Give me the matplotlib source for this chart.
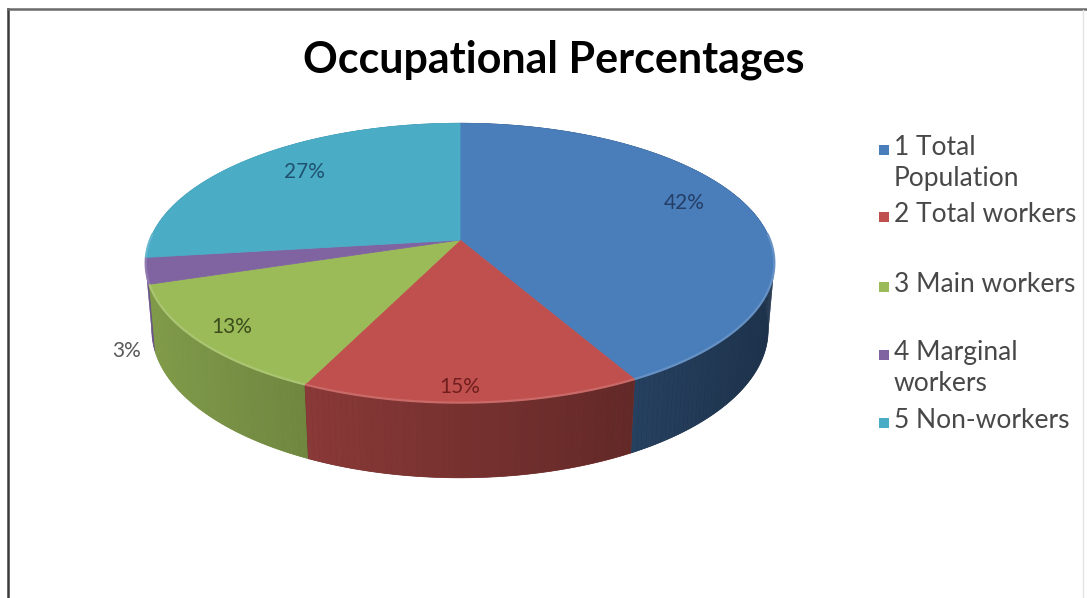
import matplotlib.pyplot as plt
import numpy as np
from matplotlib.collections import PolyCollection
from matplotlib.colors import to_rgb
from matplotlib.patches import Polygon

TITLE = "Occupational Percentages"
categories = ["1 Total\nPopulation", "2 Total workers", "3 Main workers",
              "4 Marginal\nworkers", "5 Non-workers"]
shares = [42, 15, 13, 3, 27]
slice_colors = ["#4A7EBB", "#C0504D", "#9BBB59", "#8064A2", "#4BACC6"]
label_colors = ["#243E66", "#701E1E", "#3C4C1C", "#5A5A5A", "#1E5270"]

# label anchor points (pixels) and legend rows
label_pos = [(684, 203), (460, 387), (232, 327), (127, 351), (304, 172)]
legend_rows = [150, 217, 287, 355, 423]

# camera set-up for the tilted disc (pixel space)
CX, CY = 460.0, 240.0
FOCAL = 1696.0
DIST = 5.47
TILT = np.radians(26.0)
THICK = 0.242


def project(x, y, z):
    yc = y * np.cos(TILT) + z * np.sin(TILT)
    zc = z * np.cos(TILT) - y * np.sin(TILT) + DIST
    return CX + FOCAL * x / zc, CY - FOCAL * yc / zc, zc


def shade(color, f):
    r, g, b = to_rgb(color)
    return (r * f, g * f, b * f)


def lighten(color, f):
    r, g, b = to_rgb(color)
    return (r + (1 - r) * f, g + (1 - g) * f, b + (1 - b) * f)


def wall_light(a):
    return 0.62 - 0.23 * np.sin(a)


fig = plt.figure(figsize=(10.87, 5.98), dpi=100)
ax = fig.add_axes([0, 0, 1, 1])
ax.set_xlim(0, 1087)
ax.set_ylim(598, 0)
ax.axis("off")

fracs = np.array(shares, dtype=float) / sum(shares)
edges = np.concatenate([[0.0], np.cumsum(fracs)]) * 2 * np.pi

# side walls: one solid band per slice, then a shading gradient over it,
# painted from the farthest slice to the nearest
walls = []
for i in range(len(shares)):
    a = np.linspace(edges[i], edges[i + 1], max(4, int(np.degrees(edges[i + 1] - edges[i]))))
    tx, ty, _ = project(np.sin(a), 0 * a, np.cos(a))
    bx, by, _ = project(np.sin(a), 0 * a - THICK, np.cos(a))
    am = 0.5 * (edges[i] + edges[i + 1])
    _, _, zc = project(np.sin(am), 0, np.cos(am))
    walls.append((zc, i, a, tx, ty, bx, by))

for zc, i, a, tx, ty, bx, by in sorted(walls, key=lambda w: -w[0]):
    band = np.column_stack([np.r_[tx, bx[::-1]], np.r_[ty, by[::-1]]])
    base = shade(slice_colors[i], wall_light(np.mean(a)))
    ax.add_patch(Polygon(band, closed=True, facecolor=base, edgecolor=base,
                         linewidth=0.5))
    quads = [[(tx[k], ty[k]), (tx[k + 1], ty[k + 1]),
              (bx[k + 1], by[k + 1]), (bx[k], by[k])] for k in range(len(a) - 1)]
    cols = [shade(slice_colors[i], wall_light(0.5 * (a[k] + a[k + 1])))
            for k in range(len(a) - 1)]
    ax.add_collection(PolyCollection(quads, facecolors=cols, linewidths=0))

# top faces
for i in range(len(shares)):
    a = np.linspace(edges[i], edges[i + 1], 200)
    sx, sy, _ = project(np.sin(a), 0 * a, np.cos(a))
    ax0, ay0, _ = project(0, 0, 0)
    verts = np.column_stack([np.r_[ax0, sx], np.r_[ay0, sy]])
    ax.add_patch(Polygon(verts, closed=True, facecolor=slice_colors[i],
                         edgecolor=slice_colors[i], linewidth=0.6))
    # soft rim along the front edge
    front = np.cos(a) < 0.05
    if front.any():
        ax.plot(sx[front], sy[front], color=lighten(slice_colors[i], 0.15),
                linewidth=1.6, solid_capstyle="butt")

for (x, y), txt, col in zip(label_pos, shares, label_colors):
    ax.text(x, y, f"{txt}%", ha="center", va="center", fontsize=15,
            color=col, family="Lato")

ax.text(554, 60, TITLE, ha="center", va="center", fontsize=31,
        fontweight="bold", color="black", family="Lato")

# legend
for y, name, col in zip(legend_rows, categories, slice_colors):
    ax.scatter([884], [y], marker="s", s=60, color=col, linewidths=0)
    ax.text(894, y - 15, name, ha="left", va="top", fontsize=19,
            color="#484848", family="Lato", linespacing=1.3)

# chart area frame
ax.plot([8, 8], [598, 9], color="#3a3a3a", linewidth=1.8)
ax.plot([8, 1087], [9, 9], color="#6a6a6a", linewidth=1.8)
ax.plot([1083, 1083], [10, 598], color="#e4e4e4", linewidth=1)

fig.savefig("out.png", dpi=100, facecolor="white")
